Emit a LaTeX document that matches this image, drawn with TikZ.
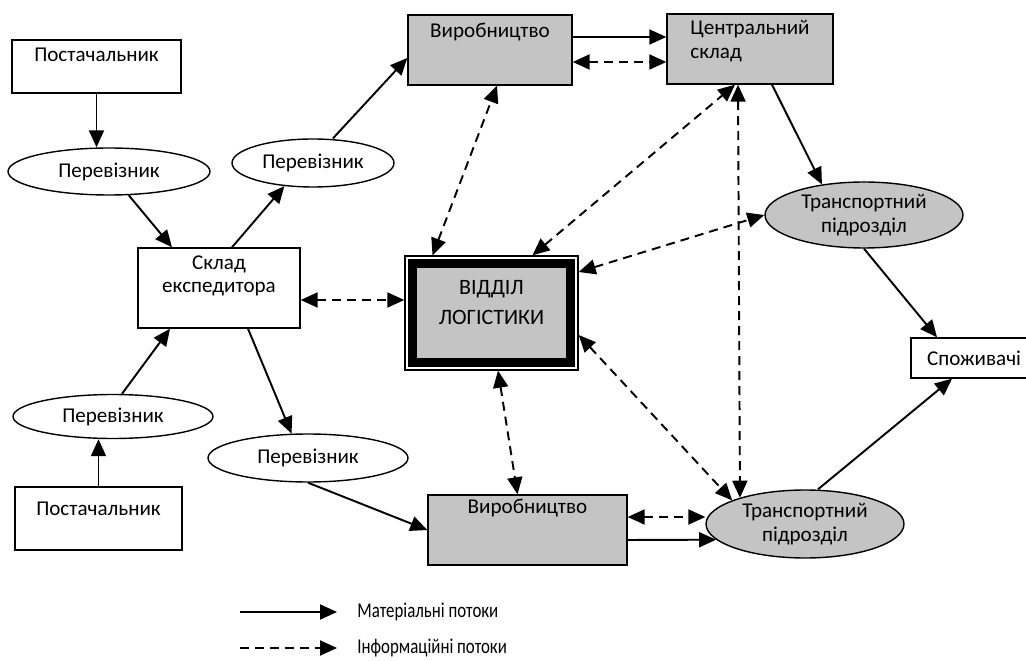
\documentclass[tikz,border=0pt]{standalone}
\usepackage{fontspec}
\setmainfont{Carlito}
\newfontfamily\legendfont{Carlito}[FakeStretch=0.8]
\usetikzlibrary{arrows.meta, shapes.geometric}
\definecolor{boxgray}{gray}{0.77}
\tikzset{>={Triangle[length=0.34cm,width=0.3cm]}}
\newcommand{\twolines}[3][c]{\begin{tabular}[t]{@{}#1@{}}#2\\#3\end{tabular}}

\begin{document}
\begin{tikzpicture}[x=0.02cm, y=-0.02cm,
    box/.style={draw, line width=0.8pt, inner sep=0pt, font=\fontsize{12}{13.5}\selectfont},
    carrier/.style={draw, ellipse, line width=0.8pt, inner sep=0pt, align=center, font=\fontsize{12}{13.5}\selectfont},
    mat/.style={->, line width=1.1pt},
    inf/.style={<->, line width=1.1pt, dash pattern=on 0.18cm off 0.12cm},
    legtext/.style={inner xsep=0.4cm, font=\legendfont\fontsize{12}{13}\selectfont}]
    \useasboundingbox (0,0) rectangle (1026,661);
    % suppliers, carriers, forwarder
    \node[box, minimum width=3.38cm, text height=0.44cm, text depth=0.62cm] (sup1) at (96.5,66.5) {Постачальник};
    \node[box, minimum width=3.34cm, text height=0.56cm, text depth=0.7cm] (sup2) at (98.5,518.5) {Постачальник};
    \node[carrier, minimum width=4.04cm, minimum height=0.94cm] (carA) at (109,171.5) {Перевізник};
    \node[carrier, minimum width=3.24cm, minimum height=0.96cm] (carB) at (313,163) {Перевізник};
    \node[carrier, minimum width=4cm, minimum height=0.88cm] (carC) at (113,416.5) {Перевізник};
    \node[carrier, minimum width=4cm, minimum height=0.96cm] (carD) at (308,458) {Перевізник};
    \node[box, minimum width=3.24cm, text height=0.42cm, text depth=1.18cm] (sklad) at (219,288) {\twolines{Склад}{експедитора}};
    % production, storage, transport
    \node[box, fill=boxgray, minimum width=3.28cm, text height=0.46cm, text depth=0.94cm] (prodA) at (490,50) {Виробництво};
    \node[box, fill=boxgray, minimum width=3.32cm, text height=0.42cm, text depth=0.98cm] (cstore) at (750,49) {\twolines[l]{Центральний}{склад}};
    \node[box, fill=boxgray, minimum width=3.98cm, text height=0.36cm, text depth=1.04cm] (prodB) at (527.5,530) {Виробництво};
    \node[carrier, fill=boxgray, minimum width=3.96cm, minimum height=1.32cm] (tranA) at (864,215) {Транспортний\\підрозділ};
    \node[carrier, fill=boxgray, minimum width=3.96cm, minimum height=1.36cm] (tranB) at (805,524) {Транспортний\\підрозділ};
    \node[box, minimum width=2.52cm, minimum height=0.8cm] (cons) at (974,358) {Споживачі};
    % logistics department
    \node[draw, line width=0.8pt, minimum width=3.46cm, minimum height=2.28cm] (logiframe) at (491.5,313) {};
    \node[draw, fill=boxgray, line width=0.18cm, inner sep=0pt, minimum width=3.16cm, minimum height=1.98cm,
        text height=0.62cm, text depth=1.36cm, font=\fontsize{12.5}{17}\selectfont] (logi) at (491.5,313)
        {\twolines{ВІДДІЛ}{ЛОГІСТИКИ}};

    % material flows
    \draw[mat] (sup1.south) -- (sup1.south |- carA.north);
    \draw[mat] (carA) -- ([xshift=-0.94cm]sklad.north);
    \draw[mat] ([xshift=0.26cm]sklad.north) -- (carB.219);
    \draw[mat] ([xshift=0.4cm]carB.north) -- ([yshift=-0.16cm]prodA.west);
    \draw[mat] ([yshift=0.26cm]prodA.east) -- ([yshift=0.26cm]prodA.east -| cstore.west);
    \draw[mat] ([xshift=0.44cm]cstore.south) -- (tranA.144);
    \draw[mat] (tranA.south) -- ([xshift=-0.74cm]cons.north);
    \draw[mat] ([xshift=0.26cm]tranB.north) -- ([xshift=-0.44cm]cons.south);
    \draw[mat] (sup2.north) -- (sup2.north |- carC.south);
    \draw[mat] ([xshift=0.18cm]carC.north) -- ([xshift=-0.98cm]sklad.south);
    \draw[mat] ([xshift=0.58cm]sklad.south) -- (carD.124);
    \draw[mat] (carD.south) -- (prodB.west);
    \draw[mat] ([yshift=-0.2cm]prodB.east) -- (tranB.190);

    % information flows
    \draw[inf] ([yshift=-0.24cm]prodA.east) -- ([yshift=-0.24cm]prodA.east -| cstore.west);
    \draw[inf] ([yshift=-0.24cm]sklad.east) -- ([yshift=-0.24cm]sklad.east -| logiframe.west);
    \draw[inf] ([xshift=-1.18cm]logiframe.north) -- ([xshift=0.14cm]prodA.south);
    \draw[inf] ([xshift=0.82cm]logiframe.north) -- ([xshift=-0.3cm]cstore.south);
    \draw[inf] ([xshift=-0.24cm]cstore.south) -- (tranB.158);
    \draw[inf] ([yshift=0.82cm]logiframe.east) -- (tranA.west);
    \draw[inf] ([yshift=-0.44cm]logiframe.east) -- (tranB.162);
    \draw[inf] ([xshift=0.13cm]logiframe.south) -- ([xshift=-0.2cm]prodB.north);
    \draw[inf] ([yshift=0.26cm]prodB.east) -- ([yshift=0.26cm]prodB.east -| tranB.west);

    % legend
    \coordinate (matA) at (240,612);
    \node[legtext, anchor=west] (matTxt) at (337,612) {Матеріальні потоки};
    \draw[mat] (matA) -- (matTxt);
    \coordinate (infA) at (240,648);
    \node[legtext, anchor=west] (infTxt) at (337,648) {Інформаційні потоки};
    \draw[->, line width=1.1pt, dash pattern=on 0.18cm off 0.12cm] (infA) -- (infTxt);
\end{tikzpicture}
\end{document}
